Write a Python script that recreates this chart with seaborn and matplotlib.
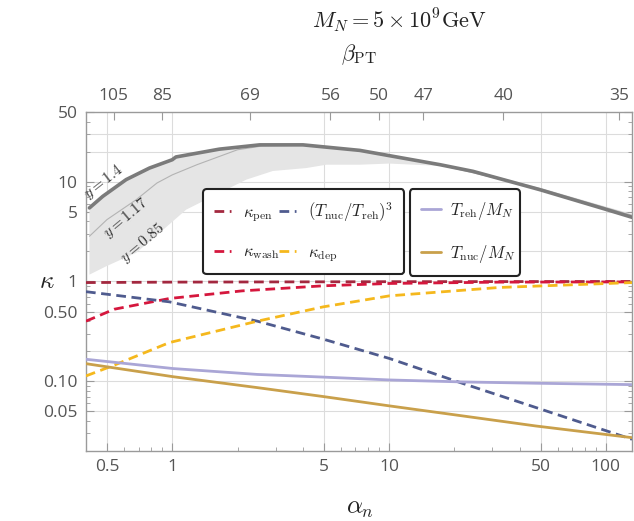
import numpy as np
import pandas as pd
import matplotlib
matplotlib.use("Agg")
import matplotlib.pyplot as plt
import seaborn as sns
from matplotlib.ticker import FixedLocator, FixedFormatter, LogLocator, NullFormatter

# ---------------- data ----------------
pen_alpha = [0.40, 1.0, 10.0, 132.0]
pen_vals = [0.975, 0.985, 0.995, 1.0]

wash_alpha = [0.40, 0.54, 0.97, 2.1, 4.98, 10.05, 32.3, 132.0]
wash_vals = [0.40, 0.527, 0.675, 0.805, 0.905, 0.955, 0.985, 0.99]

ratio_alpha = [0.40, 0.97, 2.47, 4.98, 10.05, 21.9, 47.6, 132.0]
ratio_vals = [0.79, 0.625, 0.40, 0.264, 0.169, 0.095, 0.0545, 0.0262]

dep_alpha = [0.40, 0.54, 0.97, 2.47, 4.98, 10.05, 32.3, 132.0]
dep_vals = [0.113, 0.145, 0.244, 0.40, 0.557, 0.718, 0.871, 0.975]

treh_alpha = [0.40, 1.01, 2.47, 4.98, 10.05, 21.9, 47.6, 132.0]
treh_vals = [0.166, 0.134, 0.117, 0.110, 0.103, 0.0984, 0.0955, 0.0925]

tnuc_alpha = [0.40, 1.01, 2.47, 4.98, 10.05, 21.9, 47.6, 132.0]
tnuc_vals = [0.150, 0.111, 0.0863, 0.0702, 0.0566, 0.0449, 0.0356, 0.0272]

# gray band: y = 1.4 (upper), y = 1.17 (middle), y = 0.85 (lower)
up_alpha = [0.415, 0.478, 0.613, 0.785, 1.0, 1.04, 1.65, 2.53, 4.01, 5.14, 7.33, 17.2, 24.4, 49.8, 101, 132]
up_vals = [5.46, 7.13, 10.5, 13.7, 16.6, 17.7, 21.2, 23.4, 23.4, 22.2, 20.6, 14.8, 12.7, 8.3, 5.25, 4.4]

mid_alpha = [0.415, 0.5, 0.682, 0.85, 1.0, 1.3, 2.0, 2.6, 4.0, 7.33, 17.2, 49.8, 101, 132]
mid_vals = [2.84, 4.17, 6.6, 9.7, 11.7, 14.8, 20.9, 22.8, 23.2, 20.5, 14.7, 8.5, 5.45, 4.6]

low_alpha = [0.415, 0.496, 0.682, 0.874, 1.16, 1.65, 2.2, 2.91, 4.15, 5.14, 7.33, 10, 17.2, 24.4, 49.8, 101, 132]
low_vals = [1.17, 1.42, 1.94, 3.07, 5.25, 7.7, 10.5, 12.8, 13.7, 14.8, 14.8, 15.2, 14.4, 13.0, 8.7, 5.6, 4.75]

# axis ticks
x_major = [0.5, 1, 5, 10, 50, 100]
x_major_labels = ["0.5", "1", "5", "10", "50", "100"]
y_major = [0.05, 0.1, 0.5, 1, 5, 10, 50]
y_major_labels = ["0.05", "0.10", "0.50", "1", "5", "10", "50"]
y_grid = [0.05, 0.1, 0.2, 0.5, 1, 2, 5, 10, 20, 30]

beta_labels = ["105", "85", "69", "56", "50", "47", "40", "35"]
beta_alpha_pos = [0.536, 0.895, 2.276, 5.37, 9.0, 14.4, 33.7, 115.6]

# ---------------- style ----------------
sns.set_style("white")
plt.rcParams["mathtext.fontset"] = "cm"
plt.rcParams["font.family"] = ["Open Sans", "DejaVu Sans"]

fig = plt.figure(figsize=(6.34, 5.21), dpi=100)
ax = fig.add_axes([0.1356, 0.1344, 0.8612, 0.6507])
ax.set_xscale("log")
ax.set_yscale("log")
ax.set_xlim(0.4, 132)
ax.set_ylim(0.02, 50)

# grid lines
for gx in x_major:
    ax.axvline(gx, color="#dcdcdc", lw=0.8, zorder=0)
for gy in y_grid:
    ax.axhline(gy, color="#dcdcdc", lw=0.8, zorder=0)

# band
poly_x = np.r_[up_alpha, low_alpha[::-1]]
poly_y = np.r_[up_vals, low_vals[::-1]]
ax.fill(poly_x, poly_y, color="#e5e5e5", lw=0, zorder=1)
sns.lineplot(x=mid_alpha, y=mid_vals, ax=ax, color="#b3b3b3", lw=0.8, zorder=2)
sns.lineplot(x=up_alpha, y=up_vals, ax=ax, color="#7b7b7b", lw=2.6, zorder=3)

dash = (3.5, 2.0)
series = [
    (pen_alpha, pen_vals, "#a3283f", dash, r"$\kappa_{\rm pen}$"),
    (wash_alpha, wash_vals, "#d5173d", dash, r"$\kappa_{\rm wash}$"),
    (ratio_alpha, ratio_vals, "#4f5b8e", dash, r"$(T_{\rm nuc}/T_{\rm reh})^3$"),
    (dep_alpha, dep_vals, "#f5b81d", dash, r"$\kappa_{\rm dep}$"),
    (treh_alpha, treh_vals, "#aaa6d6", None, r"$T_{\rm reh}/M_N$"),
    (tnuc_alpha, tnuc_vals, "#c9a04b", None, r"$T_{\rm nuc}/M_N$"),
]
handles = {}
for xa, ya, col, ds, lab in series:
    n0 = len(ax.lines)
    df = pd.DataFrame({"alpha": xa, "kappa": ya})
    sns.lineplot(data=df, x="alpha", y="kappa", ax=ax, color=col, lw=2.0, zorder=4)
    if ds is not None:
        ax.lines[n0].set_dashes(ds)
    ax.lines[n0].set_label(lab)
    handles[lab] = ax.lines[n0]

# band annotations
txtkw = dict(fontsize=11, color="#333333", ha="center", va="center", zorder=5)
ax.text(0.48, 10.0, r"$y = 1.4$", rotation=38, **txtkw)
ax.text(0.61, 4.3, r"$y = 1.17$", rotation=40, **txtkw)
ax.text(0.73, 2.4, r"$y = 0.85$", rotation=40, **txtkw)

# spines / ticks
for s in ax.spines.values():
    s.set_color("#9a9a9a")
    s.set_linewidth(1.0)
ax.xaxis.set_major_locator(FixedLocator(x_major))
ax.xaxis.set_major_formatter(FixedFormatter(x_major_labels))
ax.xaxis.set_minor_locator(LogLocator(base=10, subs=np.arange(2, 10) * 1.0, numticks=20))
ax.xaxis.set_minor_formatter(NullFormatter())
ax.yaxis.set_major_locator(FixedLocator(y_major))
ax.yaxis.set_major_formatter(FixedFormatter(y_major_labels))
ax.yaxis.set_minor_locator(LogLocator(base=10, subs=np.arange(2, 10) * 1.0, numticks=20))
ax.yaxis.set_minor_formatter(NullFormatter())
ax.tick_params(which="both", direction="in", color="#9a9a9a", labelcolor="#555555",
               labelsize=12.5, top=False, right=True, left=True, bottom=True)
ax.tick_params(which="major", length=6, width=0.8, pad=6)
ax.tick_params(which="minor", length=3, width=0.6)
ax.set_xlabel("")
ax.set_ylabel("")

# top axis (beta_PT)
ax2 = ax.twiny()
ax2.set_xscale("log")
ax2.set_xlim(ax.get_xlim())
ax2.xaxis.set_major_locator(FixedLocator(beta_alpha_pos))
ax2.xaxis.set_major_formatter(FixedFormatter(beta_labels))
ax2.xaxis.set_minor_locator(FixedLocator([]))
ax2.tick_params(which="major", direction="in", length=6, width=0.8, color="#9a9a9a",
                labelcolor="#555555", labelsize=12.5, pad=6)
for s in ax2.spines.values():
    s.set_visible(False)

# legends
legkw = dict(loc="upper left", mode="expand", fontsize=12, frameon=True, fancybox=True,
             edgecolor="#222222", framealpha=1, labelspacing=1.25,
             borderpad=0.65, borderaxespad=0.0)
leg1 = ax.legend(handles=[handles[r"$\kappa_{\rm pen}$"], handles[r"$\kappa_{\rm wash}$"],
                          handles[r"$(T_{\rm nuc}/T_{\rm reh})^3$"], handles[r"$\kappa_{\rm dep}$"]],
                 ncol=2, bbox_to_anchor=(0.215, 0.536, 0.368, 0.236),
                 handlelength=1.0, handletextpad=0.75, columnspacing=0.5, **legkw)
leg1.get_frame().set_linewidth(1.5)
ax.add_artist(leg1)
leg2 = ax.legend(handles=[handles[r"$T_{\rm reh}/M_N$"], handles[r"$T_{\rm nuc}/M_N$"]],
                 bbox_to_anchor=(0.593, 0.536, 0.2015, 0.236), handlelength=1.2,
                 handletextpad=0.55, **legkw)
leg2.get_frame().set_linewidth(1.5)

# labels / titles
fig.text(399 / 634, 1 - 20 / 521, r"$M_N = 5\times 10^9\mathrm{GeV}$", fontsize=16,
         ha="center", va="center", color="#222222")
fig.text(359 / 634, 1 - 55 / 521, r"$\beta_{\rm PT}$", fontsize=16, ha="center",
         va="center", color="#222222")
fig.text(47 / 634, 1 - 282 / 521, r"$\kappa$", fontsize=18, ha="center", va="center",
         color="#222222")
fig.text(360 / 634, 1 - 508 / 521, r"$\alpha_n$", fontsize=18, ha="center", va="center",
         color="#222222")

fig.savefig("out.png", dpi=100)
